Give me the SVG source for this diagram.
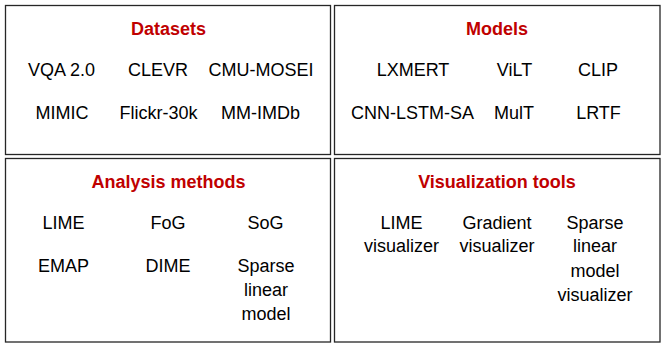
<svg xmlns="http://www.w3.org/2000/svg" width="665" height="348" viewBox="0 0 665 348">
<style>
.box{fill:#fff;stroke:#262626;stroke-width:1.3}
.t{font-family:"Liberation Sans",Arial,sans-serif;font-size:18px;fill:#000;text-anchor:middle}
.h{font-family:"Liberation Sans",Arial,sans-serif;font-size:18px;font-weight:bold;fill:#C00000;text-anchor:middle}
</style>
<rect width="665" height="348" fill="#fff"/>
<g id="datasets">
<rect class="box" x="5.5" y="5.5" width="325" height="149"/>
<text class="h" x="168.5" y="35">Datasets</text>
<text class="t" x="61.5" y="76">VQA 2.0</text>
<text class="t" x="158" y="76">CLEVR</text>
<text class="t" x="261" y="76">CMU-MOSEI</text>
<text class="t" x="62" y="119">MIMIC</text>
<text class="t" x="158.5" y="119">Flickr-30k</text>
<text class="t" x="260.5" y="119">MM-IMDb</text>
</g>
<g id="models">
<rect class="box" x="334.5" y="5.5" width="325.5" height="149"/>
<text class="h" x="497" y="35">Models</text>
<text class="t" x="413" y="76">LXMERT</text>
<text class="t" x="514.5" y="76">ViLT</text>
<text class="t" x="598" y="76">CLIP</text>
<text class="t" x="412.5" y="119">CNN-LSTM-SA</text>
<text class="t" x="514" y="119">MulT</text>
<text class="t" x="598.5" y="119">LRTF</text>
</g>
<g id="analysis">
<rect class="box" x="5.5" y="158.5" width="325" height="183.5"/>
<text class="h" x="168.5" y="187.5">Analysis methods</text>
<text class="t" x="63.5" y="228.5">LIME</text>
<text class="t" x="168" y="228.5">FoG</text>
<text class="t" x="265.5" y="228.5">SoG</text>
<text class="t" x="63.5" y="271.5">EMAP</text>
<text class="t" x="168" y="271.5">DIME</text>
<text class="t" x="266" y="271.5">Sparse</text>
<text class="t" x="266" y="295.5">linear</text>
<text class="t" x="266" y="319.5">model</text>
</g>
<g id="visualization">
<rect class="box" x="334.5" y="158.5" width="325.5" height="183.5"/>
<text class="h" x="497" y="187.5">Visualization tools</text>
<text class="t" x="401.5" y="228.5">LIME</text>
<text class="t" x="401.5" y="252">visualizer</text>
<text class="t" x="497" y="228.5">Gradient</text>
<text class="t" x="497" y="252">visualizer</text>
<text class="t" x="595" y="228.5">Sparse</text>
<text class="t" x="595" y="252">linear</text>
<text class="t" x="595" y="276.5">model</text>
<text class="t" x="595" y="301">visualizer</text>
</g>
<g id="connectors"></g>
</svg>
